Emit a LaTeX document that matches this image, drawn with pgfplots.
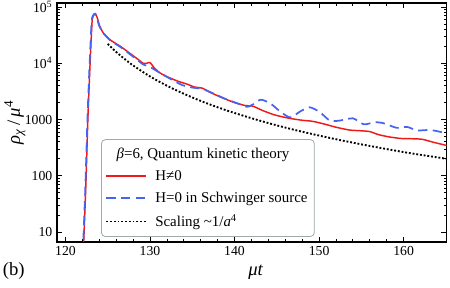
\documentclass[border=0pt]{standalone}
\usepackage{fontspec}
\setmainfont{Liberation Serif}
\usepackage{pgfplots}
\pgfplotsset{compat=1.18}
\definecolor{myred}{RGB}{240,25,25}
\definecolor{myblue}{RGB}{70,100,240}
\definecolor{legframe}{RGB}{160,170,170}
\begin{document}
\begin{tikzpicture}
\useasboundingbox (-42.75pt,-34.5pt) rectangle (294.75pt,181.5pt);
\begin{axis}[
 at={(0,0)}, anchor=south west,
 scale only axis, width=292.3pt, height=179.25pt,
 xmin=119, xmax=165.1, ymode=log, ymin=6.64, ymax=1.18e5,
 xtick={120,130,...,160}, minor x tick num=4,
 ytick={10,100,1000,10000,100000},
 yticklabels={10,100,1000,10\textsuperscript{4},10\textsuperscript{5}},
 tick align=inside, major tick length=4pt, minor tick length=2pt,
 axis line style={line width=1.1pt}, tick style={black, line width=0.6pt},
 tick label style={font=\fontsize{10.3}{12}\selectfont},
 /pgf/number format/assume math mode=true,
 clip mode=individual,
 xlabel={\textit{μt}}, ylabel={\textit{ρ}\textsubscript{\textit{χ}}\,/\,\textit{μ}\textsuperscript{4}},
 every axis x label/.style={at={(axis description cs:0.51,-0.1255)}, anchor=center, font=\fontsize{14}{16}\selectfont},
 every axis y label/.style={at={(axis description cs:-0.108,0.5)}, anchor=center, rotate=90, font=\fontsize{14}{16}\selectfont},
 legend style={at={(axis description cs:0.113,0.021)}, anchor=south west, draw=legframe, rounded corners=3pt, fill=white, font=\fontsize{11.2}{13}\selectfont, row sep=3.5pt, inner xsep=3pt, inner ysep=4pt, line width=0.6pt},
 legend cell align=left,
 legend image code/.code={\draw[#1] (0pt,0pt) -- (30pt,0pt); \path (34pt,0pt);},
]
\addlegendimage{empty legend}
\addlegendentry{\hspace{-29pt}\textit{β}=6, Quantum kinetic theory}
\addplot[myred, line width=1.1pt, smooth, tension=0.4] coordinates {
(122.1,4) (122.4,60) (122.65,1000) (122.9,9000) (123.15,55000) (123.35,72000) (123.55,76000) (123.75,65000) (124.05,46000) (124.45,35000)
(125.3,26000) (126.5,20000) (127.5,15500) (128.5,12000) (129.2,10000) (129.6,10000) (130.0,10300) (130.5,8300) (131.2,6700) (132.1,5700)
(133.3,4800) (134.5,4200) (135.2,3800) (136.2,3600) (137.2,3000) (138.5,2450) (140.0,2000) (141.2,1780) (142.2,1720) (143.3,1450)
(144.8,1200) (146.5,1050) (148.0,970) (149.2,930) (150.5,840) (152.0,730) (153.6,650) (155.0,630) (156.0,610) (157.0,540)
(158.3,490) (159.7,460) (161.0,455) (162.2,445) (163.5,395) (165.1,345)
};
\addlegendentry{H≠0}
\addplot[myblue, line width=1.3pt, dash pattern=on 7pt off 4pt, smooth, tension=0.4] coordinates {
(122.05,4) (122.35,60) (122.6,1000) (122.85,9000) (123.1,55000) (123.3,72000) (123.5,76000) (123.7,65000) (124.0,46000) (124.45,35000)
(125.3,25500) (126.5,19500) (127.5,15000) (128.5,11500) (129.2,9500) (130.0,8600) (131.2,6700) (132.5,5200) (133.8,4100) (135.0,3700)
(136.2,3500) (137.5,2900) (139.0,2300) (140.5,1900) (141.5,1680) (142.3,1900) (143.1,2250) (144.2,1950) (145.5,1350) (146.6,1090)
(147.8,1400) (148.9,1650) (150.1,1350) (151.3,950) (152.5,960) (154.0,1050) (155.3,820) (156.5,890) (157.5,870) (159.2,710)
(160.4,740) (161.6,640) (163.2,650) (165.1,570)
};
\addlegendentry{H=0 in Schwinger source}
\addplot[black, line width=1.4pt, dash pattern=on 1.4pt off 1.4pt, smooth] coordinates {
(125,22100) (126,15900) (127,11900) (128,9160) (130,5840) (132,3990) (134,2870) (136,2140) (138,1650) (140,1306)
(143,953) (146,719) (149,560) (152,446) (155,362) (158,298) (161,249) (165.1,200)
};
\addlegendentry{Scaling \textasciitilde1/\textit{a}\textsuperscript{4}}
\node[font=\fontsize{14}{16}\selectfont] at (axis description cs:-0.111,-0.121) {(b)};
\end{axis}
\end{tikzpicture}
\end{document}
